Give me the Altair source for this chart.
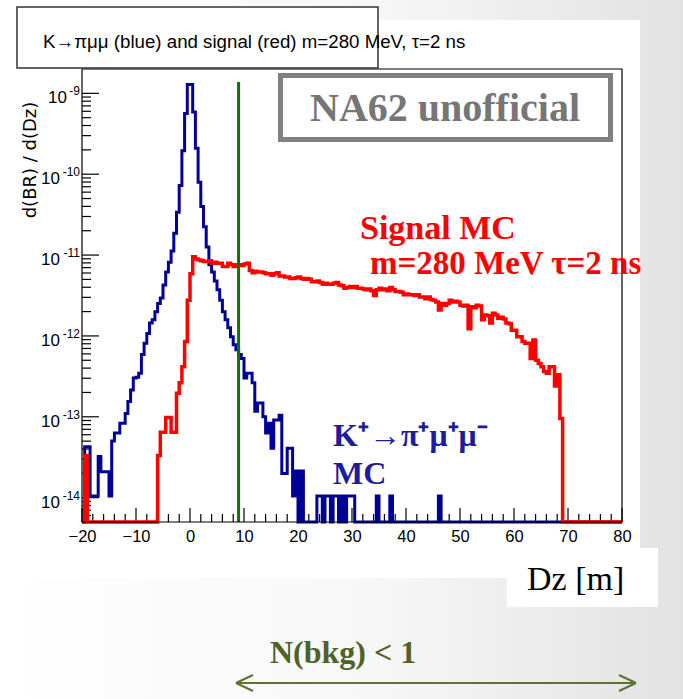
import altair as alt
import pandas as pd

# Histogram binning along the decay axis (metres) and vertical range
X_MIN, X_MAX, BIN_W = -20.0, 80.0, 0.5
Y_FLOOR, Y_TOP = 5.0e-15, 2.0e-9
CUT_DZ = 9.0

# log10(d(BR)/d(Dz)) per 0.5 m bin, first bin starts at Dz = -20; None = empty bin
signal_log10 = [
    None, -13.48, None, None, None, None, None, None, None, None,                  # -20.0
    None, None, None, None, None, None, None, None, None, None,                    # -15.0
    None, None, None, None, None, None, None, None, -13.48, -13.19,                # -10.0
    -13.19, -13.01, -13.01, -13.19, -13.19, -12.71, -12.58, -12.38, -12.07, -11.56,  # -5.0
    -11.23, -11.02, -11.05, -11.06, -11.07, -11.08, -11.08, -11.07, -11.10, -11.09,  # 0.0
    -11.10, -11.10, -11.14, -11.14, -11.10, -11.12, -11.14, -11.12, -11.12, -11.13,  # 5.0
    -11.11, -11.10, -11.19, -11.22, -11.20, -11.21, -11.21, -11.22, -11.23, -11.23,  # 10.0
    -11.25, -11.23, -11.22, -11.26, -11.26, -11.27, -11.27, -11.29, -11.29, -11.28,  # 15.0
    -11.27, -11.29, -11.30, -11.29, -11.30, -11.33, -11.33, -11.32, -11.34, -11.36,  # 20.0
    -11.35, -11.36, -11.36, -11.35, -11.34, -11.37, -11.38, -11.41, -11.40, -11.39,  # 25.0
    -11.40, -11.39, -11.41, -11.41, -11.42, -11.43, -11.42, -11.44, -11.50, -11.43,  # 30.0
    -11.41, -11.43, -11.42, -11.44, -11.40, -11.43, -11.45, -11.45, -11.46, -11.49,  # 35.0
    -11.48, -11.49, -11.49, -11.50, -11.49, -11.52, -11.52, -11.54, -11.52, -11.55,  # 40.0
    -11.56, -11.58, -11.68, -11.60, -11.62, -11.60, -11.56, -11.58, -11.57, -11.58,  # 45.0
    -11.62, -11.63, -11.62, -11.91, -11.64, -11.65, -11.62, -11.63, -11.80, -11.74,  # 50.0
    -11.75, -11.84, -11.72, -11.74, -11.78, -11.77, -11.79, -11.84, -11.85, -11.93,  # 55.0
    -11.93, -12.01, -12.01, -12.07, -12.09, -12.09, -12.28, -12.05, -12.30, -12.34,  # 60.0
    -12.38, -12.44, -12.46, -12.38, -12.38, -12.62, -12.48, -13.02, None, None,      # 65.0
    None, None, None, None, None, None, None, None, None, None,                    # 70.0
    None, None, None, None, None, None, None, None, None, None,                    # 75.0
]

kpimumu_log10 = [
    None, -13.37, -13.37, -13.98, -13.98, -13.98, -13.49, -13.68, -13.68, -13.68,  # -20.0
    -13.98, -13.30, -13.20, -13.20, -13.08, -13.08, -12.96, -12.81, -12.67, -12.52,  # -15.0
    -12.51, -12.46, -12.23, -12.09, -11.97, -11.84, -11.80, -11.70, -11.60, -11.53,  # -10.0
    -11.37, -11.21, -11.09, -10.95, -10.73, -10.47, -10.14, -9.71, -9.25, -8.89,     # -5.0
    -8.89, -9.23, -9.68, -10.10, -10.40, -10.65, -10.90, -11.12, -11.21, -11.32,     # 0.0
    -11.43, -11.56, -11.70, -11.80, -11.90, -12.01, -12.11, -12.17, -12.23, -12.28,  # 5.0
    -12.52, -12.46, -12.46, -12.58, -12.93, -12.83, -12.83, -13.00, -13.20, -13.08,  # 10.0
    -13.39, -13.04, -13.04, -12.98, -13.70, -13.70, -13.39, -13.39, -13.98, -13.67,  # 15.0
    None, -13.67, None, None, None, None, None, -13.98, -13.98, None,              # 20.0
    -13.98, -13.98, None, -13.98, -13.98, None, -13.98, None, -13.98, -13.98,      # 25.0
    -13.98, None, None, None, None, None, None, None, None, -13.98,                # 30.0
    None, None, None, None, -13.98, None, None, None, None, None,                  # 35.0
    None, None, None, None, None, None, None, None, None, None,                    # 40.0
    None, None, -13.98, None, None, None, None, None, None, None,                  # 45.0
    None, None, None, None, None, None, None, None, None, None,                    # 50.0
    None, None, None, None, None, None, None, None, None, None,                    # 55.0
    None, None, None, None, None, None, None, None, None, None,                    # 60.0
    None, None, None, None, None, None, None, None, None, None,                    # 65.0
    None, None, None, None, None, None, None, None, None, None,                    # 70.0
    None, None, None, None, None, None, None, None, None, None,                    # 75.0
]

x_tick_labels = [-20, -10, 0, 10, 20, 30, 40, 50, 60, 70, 80]
y_decades = [-9, -10, -11, -12, -13, -14]

# Page geometry: plot area and its origin on the 683x699 page
W, H = 540, 453
OX, OY = 82, 69

SANS = "Liberation Sans"
NARROW = "'Liberation Sans Narrow', 'Liberation Sans', sans-serif"
WIDE = "DejaVu Sans"
SERIF = "Liberation Serif"
BLUE = "#000099"
RED = "#ff0000"
GREEN = "#0f6e0f"
OLIVE = "#4f6228"
TEXT_BLUE = "#1c1ca0"
INK = "#000000"

xs = alt.Scale(domain=[X_MIN, X_MAX], nice=False, zero=False)
ys = alt.Scale(type="log", domain=[Y_FLOOR, Y_TOP], nice=False)
x_axis = alt.Axis(values=x_tick_labels, ticks=False, domain=False, grid=False,
                  labelFont=SANS, labelFontSize=16.5, labelColor=INK,
                  labelPadding=6, title=None, zindex=1, labelFlush=False)


def step_frame(log_vals):
    rows = []
    for i, e in enumerate(log_vals):
        rows.append({"dz": X_MIN + i * BIN_W, "v": Y_FLOOR if e is None else 10.0 ** e})
    rows.append({"dz": X_MAX, "v": rows[-1]["v"]})
    return pd.DataFrame(rows)


def px(x):
    return x - OX


def py(y):
    return y - OY


one = pd.DataFrame({"k": [0]})


def box(x0, y0, x1, y1, **kw):
    return alt.Chart(one).mark_rect(**kw).encode(
        x=alt.value(px(x0)), x2=alt.value(px(x1)), y=alt.value(py(y0)), y2=alt.value(py(y1)))


def label(text, x, y, **kw):
    return alt.Chart(one).mark_text(text=text, **kw).encode(x=alt.value(px(x)), y=alt.value(py(y)))


def seg(x0, y0, x1, y1, **kw):
    return alt.Chart(one).mark_rule(**kw).encode(
        x=alt.value(px(x0)), x2=alt.value(px(x1)), y=alt.value(py(y0)), y2=alt.value(py(y1)))


def hist(log_vals, color, width):
    return alt.Chart(step_frame(log_vals)).mark_line(
        interpolate="step-after", color=color, strokeWidth=width, clip=False
    ).encode(x=alt.X("dz:Q", scale=xs, axis=x_axis), y=alt.Y("v:Q", scale=ys, axis=None))


# backgrounds
page_bg = box(0, 0, 683, 699, color={
    "gradient": "linear", "x1": 0, "x2": 1, "y1": 0, "y2": 0,
    "stops": [{"offset": 0, "color": "#ffffff"}, {"offset": 0.55, "color": "#f7f7f7"},
              {"offset": 1, "color": "#e2e2e2"}]})
canvas_bg = box(0, 20, 640, 578, color="white")
dz_box = box(507, 548, 658, 607, color="white")

# y-axis ticks drawn inward from the left edge
major_df = pd.DataFrame({"t": [10.0 ** e for e in y_decades]})
minor_vals = []
for e in range(-15, -8):
    for k in range(2, 10):
        v = k * 10.0 ** e
        if Y_FLOOR < v < Y_TOP:
            minor_vals.append(v)
minor_df = pd.DataFrame({"t": minor_vals})
y_major = alt.Chart(major_df).mark_rule(color="black", strokeWidth=1.2).encode(
    y=alt.Y("t:Q", scale=ys, axis=None), x=alt.value(0), x2=alt.value(17))
y_minor = alt.Chart(minor_df).mark_rule(color="black", strokeWidth=1.2).encode(
    y=alt.Y("t:Q", scale=ys, axis=None), x=alt.value(0), x2=alt.value(9))

# x-axis ticks drawn upward from the bottom edge
xmaj_df = pd.DataFrame({"t": x_tick_labels})
xmin_df = pd.DataFrame({"t": [v for v in range(-18, 80, 2) if v % 10 != 0]})
x_major = alt.Chart(xmaj_df).mark_rule(color="black", strokeWidth=1.2).encode(
    x=alt.X("t:Q", scale=xs, axis=x_axis), y=alt.value(H), y2=alt.value(H - 14))
x_minor = alt.Chart(xmin_df).mark_rule(color="black", strokeWidth=1.2).encode(
    x=alt.X("t:Q", scale=xs, axis=x_axis), y=alt.value(H), y2=alt.value(H - 8))

# y tick labels "10" with a raised exponent
exp_df = pd.DataFrame({"t": [10.0 ** e for e in y_decades],
                       "ex": ["-" + str(-e) for e in y_decades],
                       "n": [len(str(-e)) for e in y_decades]})
y_exp = alt.Chart(exp_df).mark_text(align="right", baseline="alphabetic", font=SANS,
                                    fontSize=12, dy=2, color=INK).encode(
    y=alt.Y("t:Q", scale=ys, axis=None), x=alt.value(-2), text="ex:N")
y_ten_1 = alt.Chart(exp_df).transform_filter("datum.n == 1").mark_text(
    align="right", baseline="alphabetic", font=NARROW, fontSize=17, dy=10, color=INK, text="10"
).encode(y=alt.Y("t:Q", scale=ys, axis=None), x=alt.value(-15))
y_ten_2 = alt.Chart(exp_df).transform_filter("datum.n == 2").mark_text(
    align="right", baseline="alphabetic", font=NARROW, fontSize=17, dy=10, color=INK, text="10"
).encode(y=alt.Y("t:Q", scale=ys, axis=None), x=alt.value(-22))

frame = box(OX, OY, OX + W, OY + H, fillOpacity=0, stroke="black", strokeWidth=1.2)

cut_line = alt.Chart(pd.DataFrame({"cut": [CUT_DZ]})).mark_rule(color=GREEN, strokeWidth=3).encode(
    x=alt.X("cut:Q", scale=xs, axis=x_axis), y=alt.value(13), y2=alt.value(H))

title_box = box(17, 7, 378, 68, color="white", stroke="#333333", strokeWidth=1.5)
title_txt = label("K\u2192\u03c0\u03bc\u03bc (blue) and signal (red) m=280 MeV, \u03c4=2 ns", 43, 48,
                  font=NARROW, fontSize=18.7, align="left", baseline="alphabetic", color=INK)
y_title = label("d(BR) / d(Dz)", 31, 160, font=WIDE, fontSize=18, angle=270,
                align="center", baseline="middle", color=INK)

na62_box = box(280.5, 75.5, 610.5, 139.5, color="white", stroke="#808080", strokeWidth=5)
na62_txt = label("NA62 unofficial", 445, 121, font=SERIF, fontWeight="bold", fontSize=40,
                 color="#767676", align="center", baseline="alphabetic")

sig1 = label("Signal MC", 360, 239, font=SERIF, fontWeight="bold", fontSize=34, color=RED,
             align="left", baseline="alphabetic")
sig2 = label("m=280 MeV \u03c4=2 ns", 370, 274, font=SERIF, fontWeight="bold", fontSize=33,
             color=RED, align="left", baseline="alphabetic")
bkg1 = label("K\u207a\u2192\u03c0\u207a\u03bc\u207a\u03bc\u207b", 333, 446, font=SERIF, fontWeight="bold",
             fontSize=32, color=TEXT_BLUE, align="left", baseline="alphabetic")
bkg2 = label("MC", 333, 484, font=SERIF, fontWeight="bold", fontSize=32, color=TEXT_BLUE,
             align="left", baseline="alphabetic")
dz_txt = label("Dz [m]", 527, 590, font=SERIF, fontSize=34, color="black",
               align="left", baseline="alphabetic")
nbkg_txt = label("N(bkg) < 1", 270, 663, font=SERIF, fontWeight="bold", fontSize=32, color=OLIVE,
                 align="left", baseline="alphabetic")

ARROW = "#5a7532"
arrow = [
    seg(236, 683, 636, 683, color=ARROW, strokeWidth=2),
    seg(236, 683, 253, 675, color=ARROW, strokeWidth=2),
    seg(236, 683, 253, 691, color=ARROW, strokeWidth=2),
    seg(636, 683, 619, 675, color=ARROW, strokeWidth=2),
    seg(636, 683, 619, 691, color=ARROW, strokeWidth=2),
]

chart = alt.layer(
    page_bg, canvas_bg, dz_box,
    x_minor, x_major, y_minor, y_major,
    hist(kpimumu_log10, BLUE, 3), hist(signal_log10, RED, 3.5),
    cut_line, frame,
    y_ten_1, y_ten_2, y_exp, y_title,
    title_box, title_txt, na62_box, na62_txt,
    sig1, sig2, bkg1, bkg2, dz_txt, nbkg_txt, *arrow,
).properties(
    width=W, height=H,
    padding={"left": OX, "top": OY, "right": 683 - OX - W, "bottom": 699 - OY - H},
    autosize=alt.AutoSizeParams(type="none"),
    background="white",
).configure_view(stroke=None)

chart.save("out.html", embed_options={"renderer": "svg", "actions": False})
